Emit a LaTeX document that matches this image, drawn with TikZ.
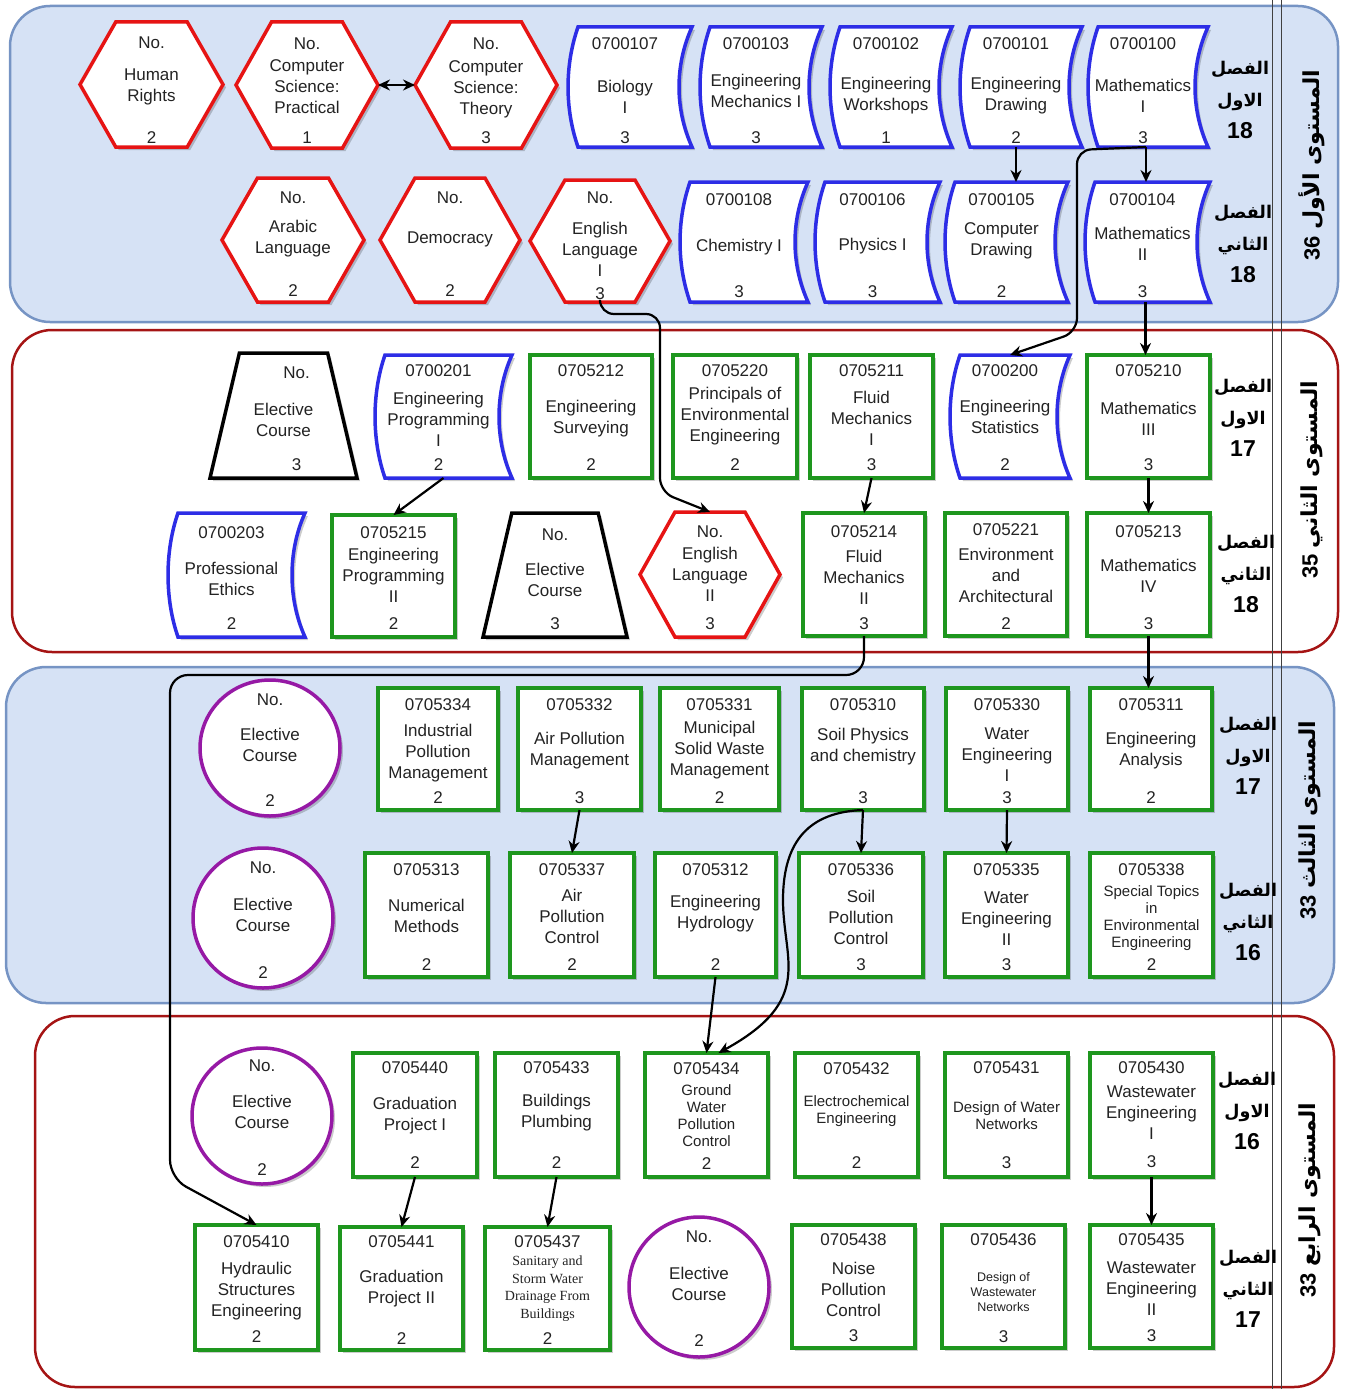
\documentclass[tikz,border=0pt]{standalone}
\usepackage{fontspec}
\setmainfont{Liberation Sans}
\newfontfamily\arabicfont[Script=Arabic]{DejaVu Sans}
\newfontfamily\timesfont{Liberation Serif}
\TeXXeTstate=1
\usetikzlibrary{calc,fit,arrows.meta}
\definecolor{lvbl}{RGB}{214,226,245}
\definecolor{lvblb}{RGB}{118,148,196}
\definecolor{lvred}{RGB}{165,20,20}
\definecolor{chred}{RGB}{230,20,20}
\definecolor{csdb}{RGB}{45,45,230}
\definecolor{cgreen}{RGB}{30,150,30}
\definecolor{cpurple}{RGB}{150,25,165}
\definecolor{txtc}{RGB}{35,35,35}
\tikzset{
 cbox/.style={inner sep=0pt, outer sep=0pt, draw=none},
 bord/.style={line width=3.5pt, fill=white},
 shad/.style={fill=black, opacity=0.2, draw=none, transform canvas={xshift=3pt,yshift=-3pt}},
 txtn/.style={font=\fontsize{17}{21}\selectfont, text=txtc, align=center, inner sep=0pt},
 smallt/.style={font=\fontsize{15}{17}\selectfont},
 tinyt/.style={font=\fontsize{12.5}{15}\selectfont},
 serift/.style={font=\timesfont\fontsize{14}{17.5}\selectfont},
 arr/.style={line width=2.2pt, draw=black, -{Stealth[length=12pt,width=11pt]}},
 darr/.style={line width=2.2pt, draw=black, {Stealth[length=12pt,width=11pt]}-{Stealth[length=12pt,width=11pt]}},
 lvlb/.style={rounded corners=40pt, fill=lvbl, draw=lvblb, line width=2.5pt},
 lvlr/.style={rounded corners=40pt, fill=white, draw=lvred, line width=2.5pt},
 sepl/.style={line width=0.9pt, draw=black!75},
 sem/.style={align=center, inner sep=0pt, text=black, font=\bfseries\fontsize{23}{32}\selectfont},
 lvl/.style={rotate=90, inner sep=0pt, text=black, font=\bfseries\fontsize{22}{26}\selectfont},
}
\newcommand\arw[1]{{\arabicfont\fontsize{17.5}{32}\selectfont\beginR #1\endR}}
\def\tdx{0}
\newcommand\mkn[5]{\node[cbox, fit={(#2,#3) (#4,#5)}] (#1) {};}
\newcommand\grect[1]{\path[shad] (#1.north west) rectangle (#1.south east);
 \path[bord, draw=cgreen] (#1.north west) rectangle (#1.south east);}
\newcommand\hexpth[2]{\path[#2] (#1.west) -- ($(#1.north west)!0.25!(#1.north east)$) -- ($(#1.north west)!0.75!(#1.north east)$) -- (#1.east) -- ($(#1.south west)!0.75!(#1.south east)$) -- ($(#1.south west)!0.25!(#1.south east)$) -- cycle;}
\newcommand\hexnode[1]{\hexpth{#1}{shad}\hexpth{#1}{bord,draw=chred}}
\newcommand\sdpth[2]{\path[#2] ([xshift=10pt]#1.north west) .. controls ([xshift=-3.3pt,yshift=-38pt]#1.north west) and ([xshift=-3.3pt,yshift=38pt]#1.south west) .. ([xshift=10pt]#1.south west) -- (#1.south east) .. controls ([xshift=-17.3pt,yshift=38pt]#1.south east) and ([xshift=-17.3pt,yshift=-38pt]#1.north east) .. (#1.north east) -- cycle;}
\newcommand\sdnode[1]{\sdpth{#1}{shad}\sdpth{#1}{bord,draw=csdb}}
\newcommand\trpth[2]{\path[#2] ($(#1.north west)!0.2!(#1.north east)$) -- ($(#1.north west)!0.8!(#1.north east)$) -- (#1.south east) -- (#1.south west) -- cycle;}
\newcommand\trnode[1]{\trpth{#1}{shad}\trpth{#1}{bord,draw=black}}
\newcommand\circnode[4]{\node[cbox, fit={({#2-70},{#3-#4}) ({#2+70},{#3+#4})}] (#1) {};
 \path[shad] (#1.center) ellipse [x radius=70pt, y radius=#4pt];
 \path[bord, draw=cpurple] (#1.center) ellipse [x radius=70pt, y radius=#4pt];}
\newcommand\ntext[8][]{%
 \node[txtn] at ($(#2.north)+(\tdx,#3)$) {#4};
 \node[txtn,#1] at ($(#2.center)+(\tdx,#5)$) {#6};
 \node[txtn] at ($(#2.south)+(\tdx,-#7)$) {#8};}
\begin{document}
\begin{tikzpicture}[x=1pt,y=-1pt]
\useasboundingbox (0,0) rectangle (1348,1389);
% level backgrounds
\path[lvlb] (10,6) rectangle (1338,322);
\path[lvlr] (12,330) rectangle (1338,652);
\path[lvlb] (6,667) rectangle (1334,1003);
\path[lvlr] (35,1016) rectangle (1334,1387);
\draw[sepl] (1272,0) -- (1272,1389);
\draw[sepl] (1281,0) -- (1281,1389);
% level labels
\node[lvl] (lv1) at (1312,165) {36 {\arabicfont\beginR المستوى الأول\endR}};
\node[lvl] (lv2) at (1312,480) {35 {\arabicfont\beginR المستوى الثاني\endR}};
\node[lvl] (lv3) at (1310,820) {33 {\arabicfont\beginR المستوى الثالث\endR}};
\node[lvl] (lv4) at (1310,1200) {33 {\arabicfont\beginR المستوى الرابع\endR}};
% semester labels
\node[sem] (s11) at (1240,100) {\arw{الفصل}\\\arw{الاول}\\18};
\node[sem] (s12) at (1243,244) {\arw{الفصل}\\\arw{الثاني}\\18};
\node[sem] (s21) at (1243,418) {\arw{الفصل}\\\arw{الاول}\\17};
\node[sem] (s22) at (1246,574) {\arw{الفصل}\\\arw{الثاني}\\18};
\node[sem] (s31) at (1248,756) {\arw{الفصل}\\\arw{الاول}\\17};
\node[sem] (s32) at (1248,922) {\arw{الفصل}\\\arw{الثاني}\\16};
\node[sem] (s41) at (1247,1111) {\arw{الفصل}\\\arw{الاول}\\16};
\node[sem] (s42) at (1248,1289) {\arw{الفصل}\\\arw{الثاني}\\17};
% ---------- Level 1, row 1
\mkn{hHR}{80}{22}{223}{147}\hexnode{hHR}
\ntext{hHR}{21}{No.}{2}{Human\\Rights}{9}{2}
\mkn{hCSP}{236}{22}{378}{148}\hexnode{hCSP}
\ntext{hCSP}{22}{No.}{2}{Computer\\Science:\\Practical}{10}{1}
\mkn{hCST}{415}{22}{557}{148}\hexnode{hCST}
\ntext{hCST}{22}{No.}{4}{Computer\\Science:\\Theory}{10}{3}
\def\tdx{-5}
\mkn{b107}{568}{27}{692}{147}\sdnode{b107}
\ntext{b107}{17}{0700107}{10}{Biology\\I}{9}{3}
\mkn{b103}{700}{27}{822}{147}\sdnode{b103}
\ntext{b103}{17}{0700103}{3.5}{Engineering\\Mechanics I}{9}{3}
\mkn{b102}{830}{27}{952}{147}\sdnode{b102}
\ntext{b102}{17}{0700102}{8.5}{Engineering\\Workshops}{9}{1}
\mkn{b101}{960}{27}{1082}{147}\sdnode{b101}
\ntext{b101}{17}{0700101}{8.5}{Engineering\\Drawing}{9}{2}
\mkn{b100}{1088}{27}{1208}{147}\sdnode{b100}
\ntext{b100}{17}{0700100}{8.5}{Mathematics\\I}{9}{3}
\def\tdx{0}
% ---------- Level 1, row 2
\mkn{hAR}{222}{178}{364}{302}\hexnode{hAR}
\ntext{hAR}{20}{No.}{-1.5}{Arabic\\Language}{11}{2}
\mkn{hDEM}{380}{178}{520}{302}\hexnode{hDEM}
\ntext{hDEM}{20}{No.}{-1}{Democracy}{11}{2}
\mkn{hEN1}{530}{180}{670}{302}\hexnode{hEN1}
\ntext{hEN1}{18}{No.}{8}{English\\Language\\I}{8}{3}
\def\tdx{-5}
\mkn{b108}{680}{182}{808}{302}\sdnode{b108}
\ntext{b108}{18}{0700108}{5}{Chemistry I}{10}{3}
\mkn{b106}{815}{182}{940}{302}\sdnode{b106}
\ntext{b106}{18}{0700106}{4}{Physics I}{10}{3}
\mkn{b105}{945}{182}{1068}{302}\sdnode{b105}
\ntext{b105}{18}{0700105}{-1.5}{Computer\\Drawing}{10}{2}
\mkn{b104}{1085}{182}{1210}{302}\sdnode{b104}
\ntext{b104}{18}{0700104}{2}{Mathematics\\II}{10}{3}
\def\tdx{0}
% ---------- Level 2, row 1
\mkn{tE1}{210}{353}{357}{478}\trnode{tE1}
\node[txtn] at ($(tE1.north)+(13,20)$) {No.};
\node[txtn] at ($(tE1.center)+(0,4)$) {Elective\\Course};
\node[txtn] at ($(tE1.south)+(13,-13)$) {3};
\def\tdx{-5}
\mkn{b201}{375}{355}{512}{478}\sdnode{b201}
\ntext{b201}{16}{0700201}{2.5}{Engineering\\Programming\\I}{13}{2}
\def\tdx{0}
\mkn{g212}{530}{355}{652}{478}\grect{g212}
\ntext{g212}{16}{0705212}{2}{Engineering\\Surveying}{13}{2}
\mkn{g220}{673}{355}{797}{478}\grect{g220}
\ntext{g220}{16}{0705220}{0}{Principals of\\Environmental\\Engineering}{13}{2}
\mkn{g211}{810}{355}{933}{478}\grect{g211}
\ntext{g211}{16}{0705211}{1.5}{Fluid\\Mechanics\\I}{13}{3}
\def\tdx{-5}
\mkn{b200}{950}{355}{1070}{478}\sdnode{b200}
\ntext{b200}{16}{0700200}{0}{Engineering\\Statistics}{13}{2}
\def\tdx{0}
\mkn{g210}{1087}{355}{1210}{478}\grect{g210}
\ntext{g210}{16}{0705210}{2}{Mathematics\\III}{13}{3}
% ---------- Level 2, row 2
\def\tdx{-5}
\mkn{b203}{168}{513}{305}{637}\sdnode{b203}
\ntext{b203}{20}{0700203}{3.5}{Professional\\Ethics}{13}{2}
\def\tdx{0}
\mkn{g215}{332}{515}{455}{637}\grect{g215}
\ntext{g215}{18}{0705215}{-1}{Engineering\\Programming\\II}{13}{2}
\mkn{tE2}{483}{513}{627}{637}\trnode{tE2}
\ntext{tE2}{22}{No.}{5}{Elective\\Course}{13}{3}
\mkn{hEN2}{640}{512}{780}{637}\hexnode{hEN2}
\ntext{hEN2}{20}{No.}{0}{English\\Language\\II}{13}{3}
\mkn{g214}{803}{513}{925}{636}\grect{g214}
\ntext{g214}{19}{0705214}{2.5}{Fluid\\Mechanics\\II}{12}{3}
\mkn{g221}{945}{513}{1067}{636}\grect{g221}
\ntext{g221}{17}{0705221}{0.5}{Environment\\and\\Architectural}{12}{2}
\mkn{g213}{1087}{513}{1210}{636}\grect{g213}
\ntext{g213}{19}{0705213}{1}{Mathematics\\IV}{12}{3}
% ---------- Level 3, row 1
\circnode{cE3a}{270}{748}{68}
\ntext{cE3a}{20}{No.}{-3}{Elective\\Course}{15}{2}
\mkn{g334}{378}{688}{498}{810}\grect{g334}
\ntext{g334}{17}{0705334}{4.5}{Industrial\\Pollution\\Management}{12}{2}
\mkn{g332}{518}{688}{641}{810}\grect{g332}
\ntext{g332}{17}{0705332}{1.5}{Air Pollution\\Management}{12}{3}
\mkn{g331}{660}{688}{779}{810}\grect{g331}
\ntext{g331}{17}{0705331}{1}{Municipal\\Solid Waste\\Management}{12}{2}
\mkn{g310}{802}{688}{924}{810}\grect{g310}
\ntext{g310}{17}{0705310}{-2.5}{Soil Physics\\and chemistry}{12}{3}
\mkn{g330}{946}{688}{1068}{810}\grect{g330}
\ntext{g330}{17}{0705330}{6}{Water\\Engineering\\I}{12}{3}
\mkn{g311}{1090}{688}{1212}{810}\grect{g311}
\ntext{g311}{17}{0705311}{1.5}{Engineering\\Analysis}{12}{2}
% ---------- Level 3, row 2
\circnode{cE3b}{263}{918}{70}
\ntext{cE3b}{20}{No.}{-3}{Elective\\Course}{15}{2}
\mkn{g313}{365}{853}{488}{977}\grect{g313}
\ntext{g313}{17}{0705313}{0.5}{Numerical\\Methods}{12}{2}
\mkn{g337}{510}{853}{634}{977}\grect{g337}
\ntext{g337}{17}{0705337}{1}{Air\\Pollution\\Control}{12}{2}
\mkn{g312}{655}{853}{776}{977}\grect{g312}
\ntext{g312}{17}{0705312}{-1.5}{Engineering\\Hydrology}{12}{2}
\mkn{g336}{799}{853}{923}{977}\grect{g336}
\ntext{g336}{17}{0705336}{2}{Soil\\Pollution\\Control}{12}{3}
\mkn{g335}{945}{853}{1068}{977}\grect{g335}
\ntext{g335}{17}{0705335}{4}{Water\\Engineering\\II}{12}{3}
\mkn{g338}{1090}{853}{1213}{977}\grect{g338}
\ntext[smallt]{g338}{17}{0705338}{3}{Special Topics\\in\\Environmental\\Engineering}{12}{2}
% ---------- Level 4, row 1
\circnode{cE4a}{262}{1116}{68}
\ntext{cE4a}{18}{No.}{-4}{Elective\\Course}{14}{2}
\mkn{g440}{353}{1053}{477}{1177}\grect{g440}
\ntext{g440}{15}{0705440}{0.5}{Graduation\\Project I}{14}{2}
\mkn{g433}{495}{1053}{618}{1177}\grect{g433}
\ntext{g433}{15}{0705433}{-2.5}{Buildings\\Plumbing}{14}{2}
\mkn{g434}{645}{1053}{768}{1177}\grect{g434}
\ntext[smallt]{g434}{16}{0705434}{1}{Ground\\Water\\Pollution\\Control}{13}{2}
\mkn{g432}{795}{1053}{918}{1177}\grect{g432}
\ntext[smallt]{g432}{16}{0705432}{-3.5}{Electrochemical\\Engineering}{14}{2}
\mkn{g431}{945}{1053}{1068}{1177}\grect{g431}
\ntext[smallt]{g431}{15}{0705431}{0.5}{Design of Water\\Networks}{14}{3}
\mkn{g430}{1090}{1053}{1213}{1177}\grect{g430}
\ntext{g430}{15}{0705430}{-2}{Wastewater\\Engineering\\I}{15}{3}
% ---------- Level 4, row 2
\mkn{g410}{195}{1225}{318}{1350}\grect{g410}
\ntext{g410}{17}{0705410}{3.5}{Hydraulic\\Structures\\Engineering}{13}{2}
\mkn{g441}{340}{1227}{463}{1350}\grect{g441}
\ntext{g441}{15}{0705441}{0}{Graduation\\Project II}{11}{2}
\mkn{g437}{485}{1227}{610}{1350}\grect{g437}
\ntext[serift]{g437}{15}{0705437}{0}{Sanitary and\\Storm Water\\Drainage From\\Buildings}{11}{2}
\circnode{cE4b}{699}{1287}{70}
\ntext{cE4b}{20}{No.}{-3}{Elective\\Course}{16}{2}
\mkn{g438}{792}{1225}{915}{1348}\grect{g438}
\ntext{g438}{15}{0705438}{2.5}{Noise\\Pollution\\Control}{12}{3}
\mkn{g436}{942}{1225}{1065}{1348}\grect{g436}
\ntext[tinyt]{g436}{15}{0705436}{5.5}{Design of\\Wastewater\\Networks}{11}{3}
\mkn{g435}{1090}{1225}{1213}{1348}\grect{g435}
\ntext{g435}{15}{0705435}{2}{Wastewater\\Engineering\\II}{12}{3}
% ---------- connectors
\draw[darr] (hCSP.east) -- (hCST.west);
\draw[arr] ([xshift=-5pt]b101.south) -- ([xshift=-5pt]b101.south |- b105.north);
\draw[arr] ([xshift=-2pt]b100.south) -- ([xshift=-2pt]b100.south |- b104.north);
\draw[arr, rounded corners=14pt] ([xshift=-2pt]b100.south) -- (1077,150) -- (1077,332) -- (b200.north);
\draw[arr] ([xshift=-2pt]b104.south) -- ([xshift=-2pt]b104.south |- g210.north);
\draw[arr, rounded corners=14pt] (hEN1.south) |- (660,314) -- (660,492) -- (hEN2.north);
\draw[arr] (b201.south) -- (g215.north);
\draw[arr] (g211.south) -- (g214.north);
\draw[arr] (g210.south) -- (g210.south |- g213.north);
\draw[arr] (g213.south) -- (g213.south |- g311.north);
\draw[arr, rounded corners=18pt] (g214.south) |- (170,675) -- (170,1178) -- (g410.north);
\draw[arr] (g332.south) -- (g337.north);
\draw[arr] (g310.south) -- (g336.north);
\draw[arr] (g330.south) -- (g335.north);
\draw[arr] (g310.south) .. controls (810,812) and (783,840) .. (783,900) .. controls (783,960) and (815,1000) .. ([xshift=12pt]g434.north);
\draw[arr] (g312.south) -- (g434.north);
\draw[arr] (g440.south) -- (g441.north);
\draw[arr] (g433.south) -- (g437.north);
\draw[arr] (g430.south) -- (g430.south |- g435.north);
\end{tikzpicture}
\end{document}
